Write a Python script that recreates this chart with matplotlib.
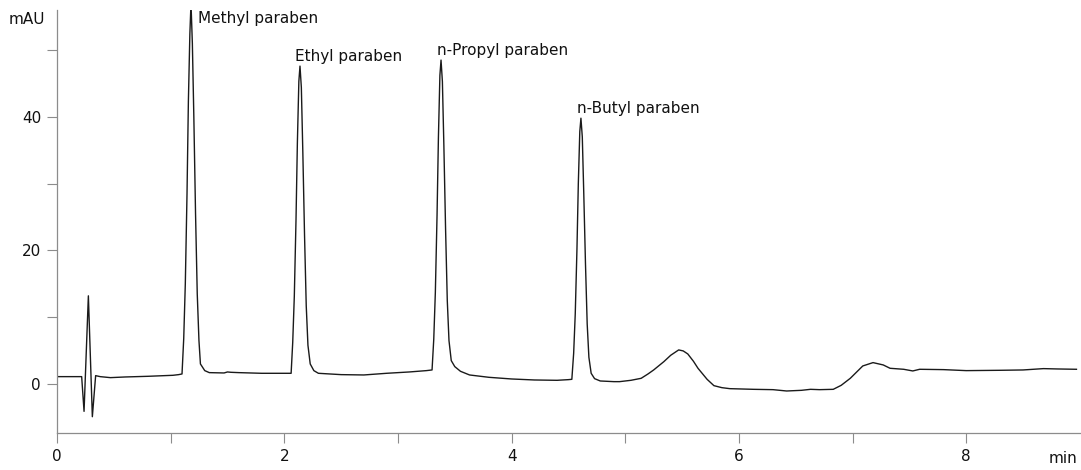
import matplotlib
matplotlib.use("Agg")
import matplotlib.pyplot as plt
from matplotlib.ticker import FixedLocator

# Chromatogram trace (time in min, signal in mAU)
time_min = [
    0.00, 0.10, 0.217, 0.238, 0.257, 0.276, 0.294, 0.311, 0.34, 0.38,
    0.47, 0.60, 0.80, 0.95, 1.02, 1.07,
    # Methyl paraben
    1.10, 1.115, 1.129, 1.144, 1.156, 1.169, 1.179, 1.191, 1.204, 1.219,
    1.234, 1.249, 1.262, 1.30, 1.34,
    1.47, 1.50, 1.53, 1.60, 1.80, 2.00, 2.05,
    # Ethyl paraben
    2.06, 2.074, 2.088, 2.103, 2.115, 2.128, 2.138, 2.150, 2.163, 2.178,
    2.193, 2.208, 2.228, 2.26, 2.30,
    2.50, 2.70, 2.90, 3.10, 3.25,
    # n-Propyl paraben
    3.30, 3.315, 3.329, 3.344, 3.356, 3.369, 3.379, 3.391, 3.404, 3.419,
    3.434, 3.449, 3.469, 3.50, 3.55, 3.63,
    3.80, 4.00, 4.20, 4.40, 4.50,
    # n-Butyl paraben
    4.53, 4.546, 4.56, 4.575, 4.587, 4.60, 4.61, 4.622, 4.635, 4.65,
    4.665, 4.68, 4.70, 4.73, 4.78,
    4.90, 4.95, 5.05, 5.14, 5.20, 5.25, 5.34, 5.40, 5.47, 5.51,
    5.55, 5.60, 5.64, 5.72, 5.78, 5.85, 5.92, 6.13, 6.30, 6.42,
    6.55, 6.63, 6.71, 6.83, 6.90, 6.98, 7.09, 7.18, 7.27, 7.33,
    7.45, 7.53, 7.59, 7.80, 8.00, 8.30, 8.50, 8.68, 8.80, 8.97,
]
signal_mau = [
    1.1, 1.1, 1.1, -4.1, 4.5, 13.2, 4.0, -4.9, 1.25, 1.1,
    0.95, 1.05, 1.15, 1.25, 1.3, 1.4,
    1.5, 6.8, 15.0, 28.5, 42.3, 52.4, 57.0, 51.0, 40.0, 25.5,
    13.5, 6.5, 3.0, 2.0, 1.7,
    1.65, 1.8, 1.75, 1.7, 1.6, 1.6, 1.6,
    1.6, 6.2, 13.1, 24.6, 36.1, 45.3, 47.6, 44.4, 34.7, 22.3,
    11.7, 5.8, 3.0, 2.0, 1.6,
    1.4, 1.35, 1.6, 1.8, 2.0,
    2.1, 6.7, 13.7, 25.3, 36.9, 46.2, 48.5, 45.3, 35.7, 23.2,
    12.5, 6.5, 3.5, 2.6, 1.9, 1.35,
    1.0, 0.75, 0.6, 0.55, 0.65,
    0.7, 4.6, 10.5, 20.2, 30.0, 37.8, 39.8, 37.0, 28.5, 18.0,
    9.0, 4.0, 1.6, 0.8, 0.45,
    0.35, 0.35, 0.55, 0.85, 1.5, 2.1, 3.35, 4.3, 5.1, 4.95,
    4.5, 3.4, 2.35, 0.7, -0.25, -0.55, -0.7, -0.8, -0.85, -1.05,
    -0.95, -0.8, -0.85, -0.8, -0.2, 0.85, 2.7, 3.2, 2.85, 2.35,
    2.2, 1.95, 2.2, 2.15, 2.0, 2.05, 2.1, 2.3, 2.25, 2.2,
]

peak_names = ["Methyl paraben", "Ethyl paraben", "n-Propyl paraben", "n-Butyl paraben"]
label_time = [1.243, 2.094, 3.346, 4.573]
label_mau = [54.1, 48.4, 49.25, 40.6]

x_major = [0, 2, 4, 6, 8]
x_minor = [1, 3, 5, 7]
y_major = [0, 20, 40]
y_minor = [10, 30, 50]

W, H = 1081, 470
fig = plt.figure(figsize=(W / 100, H / 100), dpi=100)
ax_left, ax_right, ax_bottom, ax_top = 57, 1081, 433, 10
ax = fig.add_axes([ax_left / W, 1 - ax_bottom / H,
                   (ax_right - ax_left) / W, (ax_bottom - ax_top) / H])

ax.plot(time_min, signal_mau, color="#1a1a1a", lw=1.0, solid_joinstyle="round")

ax.set_xlim(0, 9.01)
ax.set_ylim(-7.34, 56.0)

for s in ["top", "right"]:
    ax.spines[s].set_visible(False)
for s in ["left", "bottom"]:
    ax.spines[s].set_color("#8c8c8c")
    ax.spines[s].set_linewidth(0.9)

ax.set_xticks(x_major)
ax.set_xticklabels([str(v) for v in x_major])
ax.set_yticks(y_major)
ax.set_yticklabels([str(v) for v in y_major])
ax.xaxis.set_minor_locator(FixedLocator(x_minor))
ax.yaxis.set_minor_locator(FixedLocator(y_minor))
ax.tick_params(axis="both", which="both", direction="out", length=7,
               width=0.8, color="#8c8c8c", labelsize=11, labelcolor="#111111")
ax.tick_params(axis="x", which="major", pad=4.5)
ax.tick_params(axis="y", which="major", pad=4.5)

for name, t, v in zip(peak_names, label_time, label_mau):
    ax.text(t, v, name, fontsize=11, color="#111111", ha="left", va="baseline")

fig.text(45 / W, 1 - 24.3 / H, "mAU", fontsize=11, color="#111111",
         ha="right", va="baseline")
fig.text(1077 / W, 1 - 463 / H, "min", fontsize=11, color="#111111",
         ha="right", va="baseline")

fig.savefig("out.png", dpi=100)
